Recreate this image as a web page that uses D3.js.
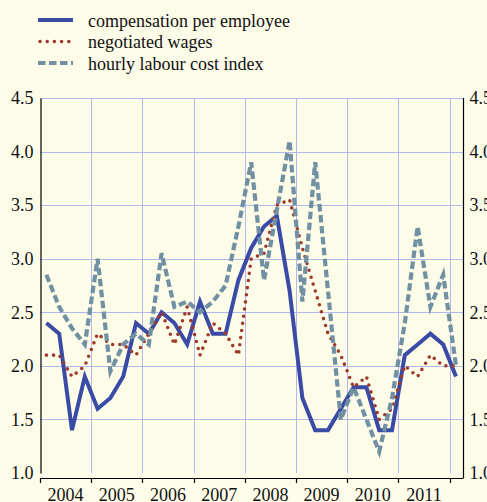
<!DOCTYPE html>
<html>
<head>
<meta charset="utf-8">
<script src="https://cdn.jsdelivr.net/npm/d3@7/dist/d3.min.js"></script>
<style>
  html, body { margin: 0; padding: 0; background: #fdfce9; }
  svg { display: block; }
  text { font-family: "Liberation Serif", "Times New Roman", serif; fill: #111; }
</style>
</head>
<body>
<div id="chart"></div>
<script>
const quarters = [
  "2004Q1","2004Q2","2004Q3","2004Q4",
  "2005Q1","2005Q2","2005Q3","2005Q4",
  "2006Q1","2006Q2","2006Q3","2006Q4",
  "2007Q1","2007Q2","2007Q3","2007Q4",
  "2008Q1","2008Q2","2008Q3","2008Q4",
  "2009Q1","2009Q2","2009Q3","2009Q4",
  "2010Q1","2010Q2","2010Q3","2010Q4",
  "2011Q1","2011Q2","2011Q3","2011Q4",
  "2012Q1"
];
const years = ["2004","2005","2006","2007","2008","2009","2010","2011"];
const yTicks = [1.0, 1.5, 2.0, 2.5, 3.0, 3.5, 4.0, 4.5];

const compensationPerEmployee = [
  2.4, 2.3, 1.4, 1.9,
  1.6, 1.7, 1.9, 2.4,
  2.3, 2.5, 2.4, 2.2,
  2.6, 2.3, 2.3, 2.8,
  3.1, 3.3, 3.4, 2.7,
  1.7, 1.4, 1.4, 1.6,
  1.8, 1.8, 1.4, 1.4,
  2.1, 2.2, 2.3, 2.2,
  1.9
];
const negotiatedWages = [
  2.1, 2.1, 1.9, 2.0,
  2.3, 2.2, 2.2, 2.1,
  2.3, 2.5, 2.2, 2.55,
  2.1, 2.4, 2.3, 2.1,
  3.0, 3.05, 3.5, 3.55,
  3.1, 2.7, 2.3, 2.1,
  1.8, 1.9, 1.5, 1.6,
  2.0, 1.9, 2.1, 2.0,
  2.0
];
const hourlyLabourCostIndex = [
  2.85, 2.55, 2.35, 2.2,
  3.0, 1.95, 2.2, 2.3,
  2.2, 3.05, 2.55, 2.6,
  2.5, 2.6, 2.75, 3.3,
  3.9, 2.8, 3.45, 4.1,
  2.6, 3.9, 2.7, 1.5,
  1.8, 1.5, 1.2, 1.7,
  2.4, 3.3, 2.55, 2.85,
  2.0
];
const seriesNames = ["compensation per employee", "negotiated wages", "hourly labour cost index"];

const W = 487, H = 502;
const mLeft = 40, mRight = 463.5, mTop = 98, mBottom = 473, xAxisY = 478;

const svg = d3.select("#chart").append("svg").attr("width", W).attr("height", H);
svg.append("rect").attr("width", W).attr("height", H).attr("fill", "#fdfce9");

const x = d3.scaleBand().domain(quarters).range([mLeft, mLeft + 12.8 * quarters.length]);
const xYear = d3.scaleBand().domain(years).range([mLeft, mLeft + 12.8 * 4 * years.length]);
const y = d3.scaleLinear().domain([1.0, 4.5]).range([mBottom, mTop]);
const cx = q => x(q) + x.bandwidth() / 2;
const yearEnd = xYear(years[years.length - 1]) + xYear.bandwidth();
const boundaries = years.slice(1).map(d => xYear(d)).concat([yearEnd]);

// gridlines
const grid = svg.append("g").attr("stroke", "#b3b8ea").attr("stroke-width", 1);
grid.selectAll("line.h").data(yTicks.filter(t => t > 1.0)).join("line").attr("class", "h")
  .attr("x1", mLeft).attr("x2", mRight)
  .attr("y1", d => Math.round(y(d)) + 0.5).attr("y2", d => Math.round(y(d)) + 0.5);
grid.selectAll("line.v").data(boundaries).join("line").attr("class", "v")
  .attr("x1", d => Math.round(d) + 0.5).attr("x2", d => Math.round(d) + 0.5)
  .attr("y1", mTop).attr("y2", mBottom);

// left axis
const yAxisL = d3.axisLeft(y).tickValues(yTicks).tickFormat(d3.format(".1f")).tickSize(0).tickSizeOuter(0).tickPadding(7);
const gL = svg.append("g").attr("transform", `translate(${mLeft + 0.5},0)`).call(yAxisL);
gL.select(".domain").attr("stroke", "#000").attr("stroke-width", 1.2);
gL.selectAll("text").style("font-family", '"Liberation Serif", serif').style("font-size", "18px").attr("fill", "#111");

// right axis
const yAxisR = d3.axisRight(y).tickValues(yTicks).tickFormat(d3.format(".1f")).tickSize(0).tickSizeOuter(0).tickPadding(6);
const gR = svg.append("g").attr("transform", `translate(${mRight},0)`).call(yAxisR);
gR.select(".domain").remove();
gR.append("line").attr("x1", 0).attr("x2", 0).attr("y1", mTop).attr("y2", xAxisY).attr("stroke", "#000").attr("stroke-width", 1.2);
gR.selectAll("text").style("font-family", '"Liberation Serif", serif').style("font-size", "18px").attr("fill", "#111");

// bottom axis: labels centered in year bands, ticks at year boundaries
const xAxis = d3.axisBottom(xYear).tickSize(0).tickSizeOuter(0).tickPadding(10);
const gB = svg.append("g").attr("transform", `translate(0,${xAxisY})`).call(xAxis);
gB.select(".domain").remove();
gB.selectAll("text").style("font-family", '"Liberation Serif", serif').style("font-size", "18px").attr("fill", "#111");
gB.append("line").attr("x1", mLeft).attr("x2", mRight).attr("y1", 0.5).attr("y2", 0.5).attr("stroke", "#000").attr("stroke-width", 1.2);
gB.selectAll("line.bt").data([xYear(years[0])].concat(boundaries)).join("line").attr("class", "bt")
  .attr("x1", d => Math.round(d) + 0.5).attr("x2", d => Math.round(d) + 0.5)
  .attr("y1", 0).attr("y2", 5).attr("stroke", "#000").attr("stroke-width", 1.2);

// series
const styles = [
  { color: "#3a4ba6", width: 4, dash: null, cap: "butt" },
  { color: "#9e3a2c", width: 3.6, dash: "0,7.2", cap: "round" },
  { color: "#7191a3", width: 4.2, dash: "7.5,3.5", cap: "butt" }
];
const seriesData = [compensationPerEmployee, negotiatedWages, hourlyLabourCostIndex];
const line = d3.line().x((d, i) => cx(quarters[i])).y(d => y(d));

seriesData.forEach((vals, k) => {
  const s = styles[k];
  const p = svg.append("path").datum(vals)
    .attr("d", line).attr("fill", "none")
    .attr("stroke", s.color).attr("stroke-width", s.width)
    .attr("stroke-linecap", s.cap).attr("stroke-linejoin", "miter");
  if (s.dash) p.attr("stroke-dasharray", s.dash);
});

// legend
const legY = [20, 41.5, 63];
const leg = svg.append("g");
seriesNames.forEach((name, k) => {
  const s = styles[k];
  const l = leg.append("line").attr("x1", 38 + (k === 1 ? 2 : 0)).attr("x2", 73).attr("y1", legY[k]).attr("y2", legY[k])
    .attr("stroke", s.color).attr("stroke-width", s.width).attr("stroke-linecap", s.cap);
  if (s.dash) l.attr("stroke-dasharray", s.dash);
  leg.append("text").attr("x", 88).attr("y", legY[k] + 6.5)
    .style("font-size", "18px").text(name);
});
</script>
</body>
</html>
